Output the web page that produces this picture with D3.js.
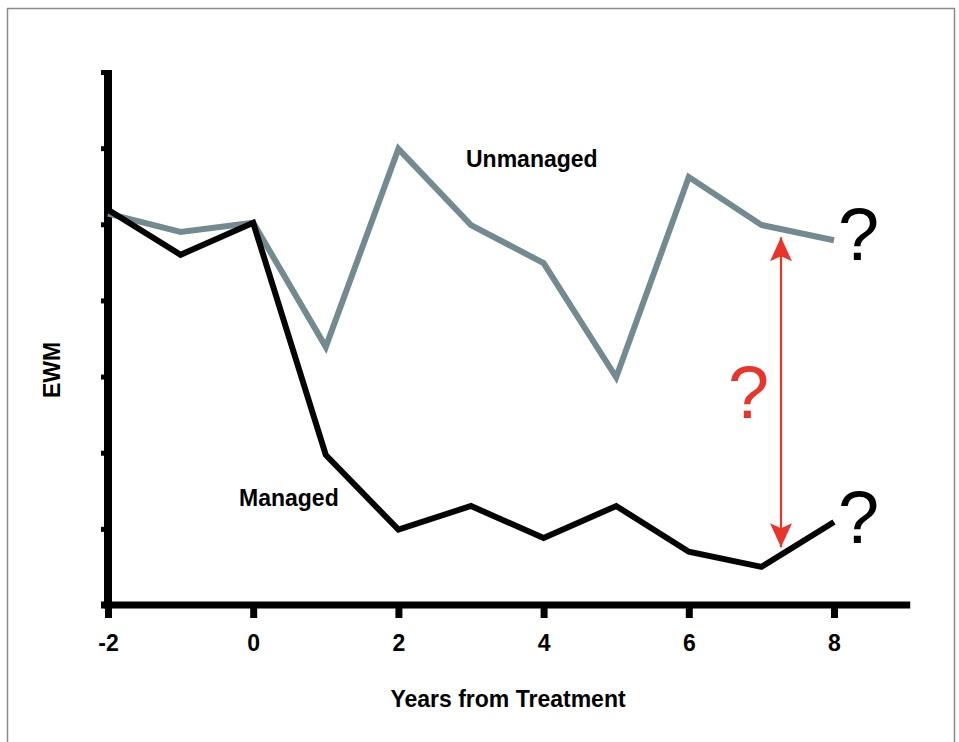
<!DOCTYPE html>
<html>
<head>
<meta charset="utf-8">
<script src="https://cdn.jsdelivr.net/npm/d3@7"></script>
<style>
  body { margin: 0; background: #fff; }
  text { font-family: "Liberation Sans", Arial, sans-serif; }
</style>
</head>
<body>
<div class="chart"></div>
<script>
// data
const years = [-2, -1, 0, 1, 2, 3, 4, 5, 6, 7, 8];
const unmanaged = [5.14, 4.90, 5.02, 3.39, 5.99, 4.99, 4.49, 2.99, 5.62, 4.99, 4.79];
const managed = [5.19, 4.60, 5.02, 1.97, 0.99, 1.30, 0.88, 1.30, 0.70, 0.50, 1.09];
const xTicks = [-2, 0, 2, 4, 6, 8];
const yTicks = [0, 1, 2, 3, 4, 5, 6, 7];
const gap = { x: 7.27, from: 4.83, to: 0.76 };

const w = 959, h = 742;

const svg = d3.select('.chart')
  .append('svg')
  .attr('width', w)
  .attr('height', h);

// frame
svg.append('rect')
  .attr('x', 7.5).attr('y', 8.5)
  .attr('width', 947).attr('height', 760)
  .attr('fill', 'none')
  .attr('stroke', '#8a8a8a')
  .attr('stroke-width', 1.5);

const x = d3.scaleLinear().domain([-2, 8]).range([108, 834]);
const y = d3.scaleLinear().domain([0, 7]).range([605, 72]);

// x axis
const xAxis = svg.append('g')
  .attr('transform', `translate(0,${y(0)})`)
  .call(d3.axisBottom(x).tickValues(xTicks).tickSize(13).tickPadding(17).tickFormat(d3.format('d')));
xAxis.select('.domain').remove();
xAxis.selectAll('.tick line').attr('stroke', '#000').attr('stroke-width', 7);
xAxis.selectAll('.tick text')
  .attr('font-size', 23).attr('font-weight', 'bold')
  .attr('font-family', '"Liberation Sans", Arial, sans-serif')
  .attr('fill', '#000')
  .text(d => d < 0 ? '-' + Math.abs(d) : d);
xAxis.append('line')
  .attr('x1', x(-2) - 7).attr('x2', x(9.05))
  .attr('stroke', '#000').attr('stroke-width', 7);

// y axis
const yAxis = svg.append('g')
  .attr('transform', `translate(${x(-2)},0)`)
  .call(d3.axisLeft(y).tickValues(yTicks).tickSize(7).tickFormat(''));
yAxis.select('.domain').remove();
yAxis.selectAll('.tick line').attr('stroke', '#000').attr('stroke-width', 5);
yAxis.append('line')
  .attr('y1', y(0) + 3.5).attr('y2', y(7) - 2)
  .attr('stroke', '#000').attr('stroke-width', 8);

// lines
const line = d3.line().x((d, i) => x(years[i])).y(d => y(d));

svg.append('path')
  .datum(unmanaged)
  .attr('d', line)
  .attr('fill', 'none')
  .attr('stroke', '#728a90')
  .attr('stroke-width', 6);

svg.append('path')
  .datum(managed)
  .attr('d', line)
  .attr('fill', 'none')
  .attr('stroke', '#050505')
  .attr('stroke-width', 6);

// red double arrow
const defs = svg.append('defs');
defs.append('marker')
  .attr('id', 'head')
  .attr('markerUnits', 'userSpaceOnUse')
  .attr('viewBox', '0 0 24 22')
  .attr('refX', 24).attr('refY', 11)
  .attr('markerWidth', 24).attr('markerHeight', 22)
  .attr('orient', 'auto-start-reverse')
  .append('path')
  .attr('d', 'M0,0 L24,11 L0,22 L5,11 Z')
  .attr('fill', '#e8342b');

svg.append('line')
  .attr('x1', x(gap.x)).attr('x2', x(gap.x))
  .attr('y1', y(gap.from)).attr('y2', y(gap.to))
  .attr('stroke', '#e8342b')
  .attr('stroke-width', 2.2)
  .attr('marker-start', 'url(#head)')
  .attr('marker-end', 'url(#head)');

// question marks
const qFont = '"DejaVu Sans", Verdana, sans-serif';
svg.append('text')
  .attr('x', x(8) + 4).attr('y', y(unmanaged[10]) + 20)
  .attr('font-family', qFont).attr('font-size', 74)
  .attr('fill', '#000').text('?');
svg.append('text')
  .attr('x', x(8) + 4).attr('y', y(managed[10]) + 21)
  .attr('font-family', qFont).attr('font-size', 74)
  .attr('fill', '#000').text('?');
svg.append('text')
  .attr('x', x(gap.x) - 53).attr('y', 418)
  .attr('font-family', qFont).attr('font-size', 74)
  .attr('fill', '#e8342b').text('?');

// labels
svg.append('text')
  .attr('x', 466).attr('y', 167)
  .attr('font-size', 23).attr('font-weight', 'bold')
  .text('Unmanaged');
svg.append('text')
  .attr('x', 239).attr('y', 506)
  .attr('font-size', 23).attr('font-weight', 'bold')
  .text('Managed');
svg.append('text')
  .attr('x', 508).attr('y', 707)
  .attr('text-anchor', 'middle')
  .attr('font-size', 23).attr('font-weight', 'bold')
  .text('Years from Treatment');
svg.append('text')
  .attr('transform', 'translate(60,370) rotate(-90)')
  .attr('text-anchor', 'middle')
  .attr('font-size', 23).attr('font-weight', 'bold')
  .text('EWM');
</script>
</body>
</html>
